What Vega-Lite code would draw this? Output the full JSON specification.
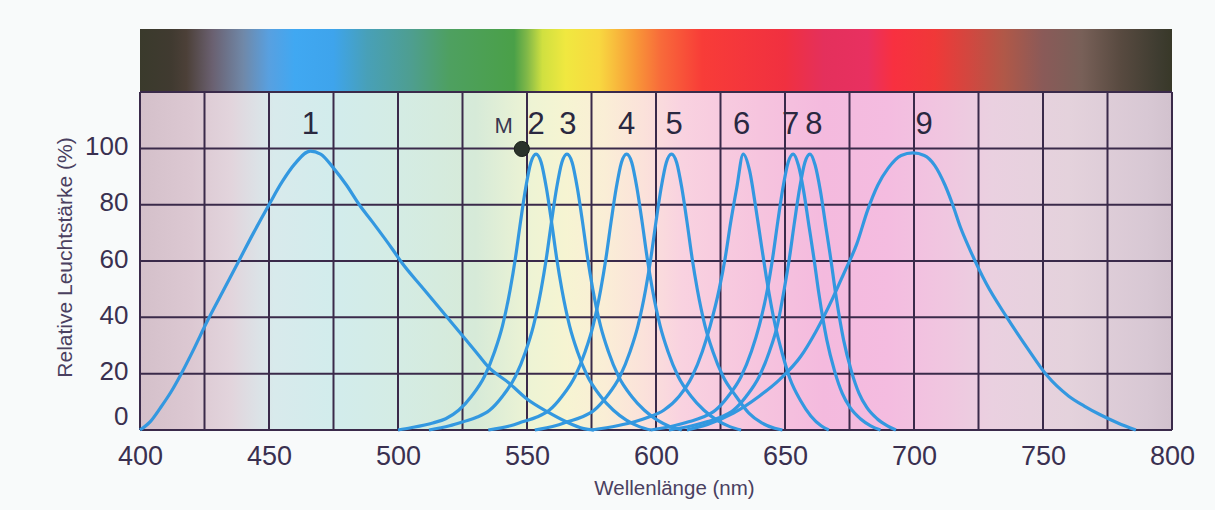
{
  "$schema": "https://vega.github.io/schema/vega-lite/v6.json",
  "width": 1032,
  "height": 401,
  "autosize": "none",
  "padding": {"left": 140, "top": 29, "right": 43, "bottom": 80},
  "background": "#f8fafa",
  "config": {"view": {"stroke": null}},
  "datasets": {
    "frame": [{"x1": 400, "x2": 800, "y1": 0, "y2": 120}],
    "spec": [{"x1": 400, "x2": 800, "y1": 120, "y2": 142.4}],
    "vgrid": [{"nm": 400}, {"nm": 425}, {"nm": 450}, {"nm": 475}, {"nm": 500}, {"nm": 525}, {"nm": 550}, {"nm": 575}, {"nm": 600}, {"nm": 625}, {"nm": 650}, {"nm": 675}, {"nm": 700}, {"nm": 725}, {"nm": 750}, {"nm": 775}, {"nm": 800}],
    "hgrid": [{"v": 0}, {"v": 20}, {"v": 40}, {"v": 60}, {"v": 80}, {"v": 100}, {"v": 120}],
    "curves": [
      {"c": "1", "nm": 400, "v": 0}, {"c": "1", "nm": 404, "v": 3}, {"c": "1", "nm": 408, "v": 8}, {"c": "1", "nm": 412, "v": 13.5}, {"c": "1", "nm": 416, "v": 20}, {"c": "1", "nm": 421, "v": 29}, {"c": "1", "nm": 426, "v": 38.5}, {"c": "1", "nm": 432, "v": 49}, {"c": "1", "nm": 438, "v": 59.5}, {"c": "1", "nm": 444, "v": 70}, {"c": "1", "nm": 450, "v": 80}, {"c": "1", "nm": 455, "v": 88}, {"c": "1", "nm": 460, "v": 94.5}, {"c": "1", "nm": 466, "v": 99}, {"c": "1", "nm": 470, "v": 98}, {"c": "1", "nm": 475, "v": 93}, {"c": "1", "nm": 480, "v": 87}, {"c": "1", "nm": 485, "v": 80}, {"c": "1", "nm": 490, "v": 74}, {"c": "1", "nm": 498, "v": 64}, {"c": "1", "nm": 501, "v": 60}, {"c": "1", "nm": 510, "v": 50}, {"c": "1", "nm": 520, "v": 39}, {"c": "1", "nm": 530, "v": 28}, {"c": "1", "nm": 535, "v": 22.4}, {"c": "1", "nm": 543, "v": 16.7}, {"c": "1", "nm": 550, "v": 11}, {"c": "1", "nm": 558, "v": 6.4}, {"c": "1", "nm": 565, "v": 3}, {"c": "1", "nm": 572, "v": 0.5}, {"c": "1", "nm": 576, "v": 0},

      {"c": "2", "nm": 500, "v": 0}, {"c": "2", "nm": 505, "v": 0.8}, {"c": "2", "nm": 513.5, "v": 2.5}, {"c": "2", "nm": 518.5, "v": 4}, {"c": "2", "nm": 523.5, "v": 7}, {"c": "2", "nm": 528.5, "v": 12}, {"c": "2", "nm": 533.5, "v": 19}, {"c": "2", "nm": 537.5, "v": 28}, {"c": "2", "nm": 540.5, "v": 37}, {"c": "2", "nm": 543.5, "v": 50}, {"c": "2", "nm": 545.5, "v": 61}, {"c": "2", "nm": 547.5, "v": 74}, {"c": "2", "nm": 549.5, "v": 86}, {"c": "2", "nm": 551.5, "v": 95}, {"c": "2", "nm": 553.5, "v": 98}, {"c": "2", "nm": 555.5, "v": 95}, {"c": "2", "nm": 557.5, "v": 86}, {"c": "2", "nm": 559.5, "v": 74}, {"c": "2", "nm": 561.5, "v": 61}, {"c": "2", "nm": 563.5, "v": 50}, {"c": "2", "nm": 566.5, "v": 37}, {"c": "2", "nm": 569.5, "v": 28}, {"c": "2", "nm": 573.5, "v": 19}, {"c": "2", "nm": 578.5, "v": 12}, {"c": "2", "nm": 583.5, "v": 7}, {"c": "2", "nm": 588.5, "v": 3.5}, {"c": "2", "nm": 593.5, "v": 1.2}, {"c": "2", "nm": 598, "v": 0},

      {"c": "3", "nm": 512, "v": 0}, {"c": "3", "nm": 520, "v": 1.5}, {"c": "3", "nm": 525.5, "v": 3}, {"c": "3", "nm": 530.5, "v": 4.5}, {"c": "3", "nm": 535.5, "v": 7}, {"c": "3", "nm": 540.5, "v": 12}, {"c": "3", "nm": 545.5, "v": 19}, {"c": "3", "nm": 549.5, "v": 28}, {"c": "3", "nm": 552.5, "v": 37}, {"c": "3", "nm": 555.5, "v": 50}, {"c": "3", "nm": 557.5, "v": 61}, {"c": "3", "nm": 559.5, "v": 74}, {"c": "3", "nm": 561.5, "v": 86}, {"c": "3", "nm": 563.5, "v": 95}, {"c": "3", "nm": 565.5, "v": 98}, {"c": "3", "nm": 567.5, "v": 95}, {"c": "3", "nm": 569.5, "v": 86}, {"c": "3", "nm": 571.5, "v": 74}, {"c": "3", "nm": 573.5, "v": 61}, {"c": "3", "nm": 575.5, "v": 50}, {"c": "3", "nm": 578.5, "v": 37}, {"c": "3", "nm": 581.5, "v": 28}, {"c": "3", "nm": 585.5, "v": 19}, {"c": "3", "nm": 590.5, "v": 12}, {"c": "3", "nm": 595.5, "v": 7}, {"c": "3", "nm": 600.5, "v": 3.5}, {"c": "3", "nm": 605.5, "v": 1.2}, {"c": "3", "nm": 610, "v": 0},

      {"c": "4", "nm": 535, "v": 0}, {"c": "4", "nm": 543.6, "v": 1.5}, {"c": "4", "nm": 548.6, "v": 3}, {"c": "4", "nm": 553.6, "v": 4.5}, {"c": "4", "nm": 558.6, "v": 7}, {"c": "4", "nm": 563.6, "v": 12}, {"c": "4", "nm": 568.6, "v": 19}, {"c": "4", "nm": 572.6, "v": 28}, {"c": "4", "nm": 575.6, "v": 37}, {"c": "4", "nm": 578.6, "v": 50}, {"c": "4", "nm": 580.6, "v": 61}, {"c": "4", "nm": 582.6, "v": 74}, {"c": "4", "nm": 584.6, "v": 86}, {"c": "4", "nm": 586.6, "v": 95}, {"c": "4", "nm": 588.6, "v": 98}, {"c": "4", "nm": 590.6, "v": 95}, {"c": "4", "nm": 592.6, "v": 86}, {"c": "4", "nm": 594.6, "v": 74}, {"c": "4", "nm": 596.6, "v": 61}, {"c": "4", "nm": 598.6, "v": 50}, {"c": "4", "nm": 601.6, "v": 37}, {"c": "4", "nm": 604.6, "v": 28}, {"c": "4", "nm": 608.6, "v": 19}, {"c": "4", "nm": 613.6, "v": 12}, {"c": "4", "nm": 618.6, "v": 7}, {"c": "4", "nm": 623.6, "v": 3.5}, {"c": "4", "nm": 628.6, "v": 1.2}, {"c": "4", "nm": 633, "v": 0},

      {"c": "5", "nm": 553, "v": 0}, {"c": "5", "nm": 561, "v": 1.5}, {"c": "5", "nm": 566, "v": 3}, {"c": "5", "nm": 571, "v": 4.5}, {"c": "5", "nm": 576, "v": 7}, {"c": "5", "nm": 581, "v": 12}, {"c": "5", "nm": 586, "v": 19}, {"c": "5", "nm": 590, "v": 28}, {"c": "5", "nm": 593, "v": 37}, {"c": "5", "nm": 596, "v": 50}, {"c": "5", "nm": 598, "v": 61}, {"c": "5", "nm": 600, "v": 74}, {"c": "5", "nm": 602, "v": 86}, {"c": "5", "nm": 604, "v": 95}, {"c": "5", "nm": 606, "v": 98}, {"c": "5", "nm": 608, "v": 95}, {"c": "5", "nm": 610, "v": 86}, {"c": "5", "nm": 612, "v": 74}, {"c": "5", "nm": 614, "v": 61}, {"c": "5", "nm": 616, "v": 50}, {"c": "5", "nm": 619, "v": 37}, {"c": "5", "nm": 622, "v": 28}, {"c": "5", "nm": 626, "v": 19}, {"c": "5", "nm": 631, "v": 12}, {"c": "5", "nm": 636, "v": 6}, {"c": "5", "nm": 641, "v": 2.5}, {"c": "5", "nm": 646, "v": 0.6}, {"c": "5", "nm": 649, "v": 0},

      {"c": "6", "nm": 575, "v": 0}, {"c": "6", "nm": 585, "v": 1.5}, {"c": "6", "nm": 592, "v": 3}, {"c": "6", "nm": 597, "v": 4.5}, {"c": "6", "nm": 603, "v": 7}, {"c": "6", "nm": 609, "v": 12}, {"c": "6", "nm": 614, "v": 19}, {"c": "6", "nm": 618, "v": 28}, {"c": "6", "nm": 621, "v": 37}, {"c": "6", "nm": 624.5, "v": 50}, {"c": "6", "nm": 626.8, "v": 61}, {"c": "6", "nm": 629, "v": 74}, {"c": "6", "nm": 631.3, "v": 86}, {"c": "6", "nm": 633.8, "v": 98}, {"c": "6", "nm": 636.3, "v": 92}, {"c": "6", "nm": 638.5, "v": 80}, {"c": "6", "nm": 640.8, "v": 66}, {"c": "6", "nm": 643, "v": 53}, {"c": "6", "nm": 646, "v": 38}, {"c": "6", "nm": 649, "v": 27}, {"c": "6", "nm": 652, "v": 18}, {"c": "6", "nm": 656, "v": 10.5}, {"c": "6", "nm": 660, "v": 5}, {"c": "6", "nm": 664, "v": 1.5}, {"c": "6", "nm": 667, "v": 0},

      {"c": "7", "nm": 598, "v": 0}, {"c": "7", "nm": 607, "v": 1.5}, {"c": "7", "nm": 613, "v": 3}, {"c": "7", "nm": 618, "v": 4.5}, {"c": "7", "nm": 623, "v": 7}, {"c": "7", "nm": 628, "v": 12}, {"c": "7", "nm": 633, "v": 19}, {"c": "7", "nm": 637, "v": 28}, {"c": "7", "nm": 640, "v": 37}, {"c": "7", "nm": 643.2, "v": 50}, {"c": "7", "nm": 645.2, "v": 61}, {"c": "7", "nm": 647.2, "v": 74}, {"c": "7", "nm": 649.2, "v": 86}, {"c": "7", "nm": 651.2, "v": 95}, {"c": "7", "nm": 653.2, "v": 98}, {"c": "7", "nm": 655.2, "v": 94}, {"c": "7", "nm": 657.2, "v": 85}, {"c": "7", "nm": 659.2, "v": 73}, {"c": "7", "nm": 661.2, "v": 61}, {"c": "7", "nm": 663.2, "v": 48}, {"c": "7", "nm": 666.2, "v": 32}, {"c": "7", "nm": 669.2, "v": 21}, {"c": "7", "nm": 672.2, "v": 13}, {"c": "7", "nm": 675.2, "v": 8}, {"c": "7", "nm": 679.2, "v": 4}, {"c": "7", "nm": 683.2, "v": 1.5}, {"c": "7", "nm": 687, "v": 0},

      {"c": "8", "nm": 605, "v": 0}, {"c": "8", "nm": 614, "v": 1.5}, {"c": "8", "nm": 620, "v": 3}, {"c": "8", "nm": 625, "v": 4.5}, {"c": "8", "nm": 630, "v": 7}, {"c": "8", "nm": 635, "v": 12}, {"c": "8", "nm": 640, "v": 19}, {"c": "8", "nm": 644, "v": 28}, {"c": "8", "nm": 647, "v": 37}, {"c": "8", "nm": 649.7, "v": 50}, {"c": "8", "nm": 651.7, "v": 61}, {"c": "8", "nm": 653.7, "v": 74}, {"c": "8", "nm": 655.7, "v": 86}, {"c": "8", "nm": 657.7, "v": 95}, {"c": "8", "nm": 659.7, "v": 98}, {"c": "8", "nm": 661.7, "v": 94}, {"c": "8", "nm": 663.7, "v": 85}, {"c": "8", "nm": 665.7, "v": 73}, {"c": "8", "nm": 667.7, "v": 61}, {"c": "8", "nm": 669.7, "v": 48}, {"c": "8", "nm": 672.7, "v": 32}, {"c": "8", "nm": 675.7, "v": 21}, {"c": "8", "nm": 678.7, "v": 13}, {"c": "8", "nm": 681.7, "v": 8}, {"c": "8", "nm": 685.7, "v": 4}, {"c": "8", "nm": 689.7, "v": 1.5}, {"c": "8", "nm": 693, "v": 0},

      {"c": "9", "nm": 612, "v": 0}, {"c": "9", "nm": 620, "v": 2}, {"c": "9", "nm": 630, "v": 6}, {"c": "9", "nm": 640, "v": 12}, {"c": "9", "nm": 648, "v": 18}, {"c": "9", "nm": 656, "v": 26}, {"c": "9", "nm": 662, "v": 35}, {"c": "9", "nm": 668.6, "v": 47}, {"c": "9", "nm": 673, "v": 56}, {"c": "9", "nm": 677.8, "v": 66}, {"c": "9", "nm": 682, "v": 78}, {"c": "9", "nm": 686, "v": 87}, {"c": "9", "nm": 690, "v": 93}, {"c": "9", "nm": 695, "v": 97.5}, {"c": "9", "nm": 699.6, "v": 98.4}, {"c": "9", "nm": 704, "v": 97.5}, {"c": "9", "nm": 708, "v": 94}, {"c": "9", "nm": 712, "v": 87}, {"c": "9", "nm": 715, "v": 80}, {"c": "9", "nm": 718, "v": 72}, {"c": "9", "nm": 721.7, "v": 64}, {"c": "9", "nm": 728, "v": 52}, {"c": "9", "nm": 736, "v": 40}, {"c": "9", "nm": 744, "v": 29}, {"c": "9", "nm": 751.4, "v": 19.5}, {"c": "9", "nm": 760, "v": 12}, {"c": "9", "nm": 766, "v": 8.5}, {"c": "9", "nm": 772, "v": 5.5}, {"c": "9", "nm": 779, "v": 2.5}, {"c": "9", "nm": 786, "v": 0}
    ],
    "labels": [
      {"t": "1", "nm": 466, "v": 105.2}, {"t": "2", "nm": 553.5, "v": 105.2}, {"t": "3", "nm": 565.8, "v": 105.2}, {"t": "4", "nm": 588.6, "v": 105.2}, {"t": "5", "nm": 607, "v": 105.2}, {"t": "6", "nm": 633.2, "v": 105.2}, {"t": "7", "nm": 652.2, "v": 105.2}, {"t": "8", "nm": 661.2, "v": 105.2}, {"t": "9", "nm": 703.9, "v": 105.2}
    ],
    "mlabel": [{"t": "M", "nm": 541, "v": 105.5}],
    "dot": [{"nm": 548, "v": 99.8}]
  },
  "layer": [
    {
      "data": {"name": "frame"},
      "mark": {"type": "rect", "fill": {"gradient": "linear", "x1": 0, "y1": 0, "x2": 1, "y2": 0, "stops": [
        {"offset": 0, "color": "#d4c0ca"}, {"offset": 0.05, "color": "#dcc8d2"}, {"offset": 0.0875, "color": "#e2d4dc"},
        {"offset": 0.13, "color": "#d8eaec"}, {"offset": 0.1875, "color": "#d2ecec"}, {"offset": 0.25, "color": "#d4ece4"},
        {"offset": 0.325, "color": "#d6ead8"}, {"offset": 0.38, "color": "#eef4d4"}, {"offset": 0.4125, "color": "#f6f4d2"},
        {"offset": 0.45, "color": "#faeed6"}, {"offset": 0.4875, "color": "#fbe2da"}, {"offset": 0.525, "color": "#f9d2e0"},
        {"offset": 0.6, "color": "#f6c4de"}, {"offset": 0.6625, "color": "#f4bade"}, {"offset": 0.725, "color": "#f4bce0"},
        {"offset": 0.78, "color": "#f0c6e0"}, {"offset": 0.825, "color": "#ead0e0"}, {"offset": 0.9, "color": "#e4d2dc"},
        {"offset": 0.975, "color": "#d8c8d4"}, {"offset": 1, "color": "#d2c2ce"}]}},
      "encoding": {
        "x": {"field": "x1", "type": "quantitative", "scale": {"domain": [400, 800], "nice": false, "zero": false},
              "axis": {"values": [400, 450, 500, 550, 600, 650, 700, 750, 800], "grid": false, "domain": false, "ticks": false, "labelFlush": false,
                       "labelFont": "Liberation Sans", "labelFontSize": 27, "labelColor": "#3a3050", "labelPadding": 13,
                       "title": "Wellenlänge (nm)", "titleFont": "Liberation Sans", "titleFontSize": 20.5, "titleFontWeight": "normal",
                       "titleColor": "#4a4060", "titleX": 534, "titleY": 58, "titleBaseline": "middle", "titleAnchor": "start", "titleAlign": "center"}},
        "x2": {"field": "x2"},
        "y": {"field": "y1", "type": "quantitative", "scale": {"domain": [0, 142.4], "nice": false, "zero": false},
              "axis": {"values": [0, 20, 40, 60, 80, 100], "grid": false, "domain": false, "ticks": false, "labelFlush": false,
                       "labelFont": "Liberation Sans", "labelFontSize": 26, "labelColor": "#3a3050", "labelPadding": 12,
                       "labelOffset": {"condition": {"test": "datum.value === 0", "value": -14}, "value": -2},
                       "title": "Relative Leuchtstärke (%)", "titleFont": "Liberation Sans", "titleFontSize": 21, "titleFontWeight": "normal",
                       "titleColor": "#4a4060", "titleX": -75, "titleY": 228, "titleAngle": 270, "titleBaseline": "middle", "titleAlign": "center"}},
        "y2": {"field": "y2"}
      }
    },
    {
      "data": {"name": "spec"},
      "mark": {"type": "rect", "fill": {"gradient": "linear", "x1": 0, "y1": 0, "x2": 1, "y2": 0, "stops": [
        {"offset": 0, "color": "#3a3a2c"}, {"offset": 0.03, "color": "#403a30"}, {"offset": 0.045, "color": "#4c4038"},
        {"offset": 0.07, "color": "#6a6070"}, {"offset": 0.1, "color": "#7088a8"}, {"offset": 0.125, "color": "#58a0e0"},
        {"offset": 0.15, "color": "#40a8f2"}, {"offset": 0.1875, "color": "#3ea4ec"}, {"offset": 0.22, "color": "#48a0b8"},
        {"offset": 0.2625, "color": "#4e9e90"}, {"offset": 0.3, "color": "#4ea060"}, {"offset": 0.3625, "color": "#4aa048"},
        {"offset": 0.375, "color": "#80b848"}, {"offset": 0.39, "color": "#d0e040"}, {"offset": 0.4125, "color": "#f0e840"},
        {"offset": 0.445, "color": "#f8d840"}, {"offset": 0.48, "color": "#f89838"}, {"offset": 0.505, "color": "#f86a3a"},
        {"offset": 0.545, "color": "#f83c38"}, {"offset": 0.625, "color": "#f03040"}, {"offset": 0.6625, "color": "#e4305c"},
        {"offset": 0.705, "color": "#e83060"}, {"offset": 0.73, "color": "#f83040"}, {"offset": 0.77, "color": "#f03838"},
        {"offset": 0.805, "color": "#d04840"}, {"offset": 0.8375, "color": "#b05848"}, {"offset": 0.875, "color": "#8a5a58"},
        {"offset": 0.9125, "color": "#786058"}, {"offset": 0.95, "color": "#584a40"}, {"offset": 0.9875, "color": "#3e3c30"},
        {"offset": 1, "color": "#383828"}]}},
      "encoding": {
        "x": {"field": "x1", "type": "quantitative"},
        "x2": {"field": "x2"},
        "y": {"field": "y1", "type": "quantitative"},
        "y2": {"field": "y2"}
      }
    },
    {
      "data": {"name": "vgrid"},
      "mark": {"type": "rule", "stroke": "#3a2a4a", "strokeWidth": 2},
      "encoding": {"x": {"field": "nm", "type": "quantitative"}, "y": {"datum": 0}, "y2": {"datum": 120}}
    },
    {
      "data": {"name": "hgrid"},
      "mark": {"type": "rule", "stroke": "#3a2a4a", "strokeWidth": 2},
      "encoding": {"y": {"field": "v", "type": "quantitative"}, "x": {"datum": 400}, "x2": {"datum": 800}}
    },
    {
      "data": {"name": "curves"},
      "mark": {"type": "line", "stroke": "#3398e0", "strokeWidth": 3.2, "interpolate": "monotone"},
      "encoding": {
        "x": {"field": "nm", "type": "quantitative"},
        "y": {"field": "v", "type": "quantitative"},
        "detail": {"field": "c"}
      }
    },
    {
      "data": {"name": "dot"},
      "mark": {"type": "point", "filled": true, "fill": "#2a322a", "stroke": "#1a201a", "strokeWidth": 1, "size": 230, "opacity": 1},
      "encoding": {"x": {"field": "nm", "type": "quantitative"}, "y": {"field": "v", "type": "quantitative"}}
    },
    {
      "data": {"name": "labels"},
      "mark": {"type": "text", "font": "Liberation Sans", "fontSize": 31, "fill": "#2a2840", "baseline": "alphabetic", "align": "center"},
      "encoding": {"x": {"field": "nm", "type": "quantitative"}, "y": {"field": "v", "type": "quantitative"}, "text": {"field": "t"}}
    },
    {
      "data": {"name": "mlabel"},
      "mark": {"type": "text", "font": "Liberation Sans", "fontSize": 22, "fill": "#3a3850", "baseline": "alphabetic", "align": "center"},
      "encoding": {"x": {"field": "nm", "type": "quantitative"}, "y": {"field": "v", "type": "quantitative"}, "text": {"field": "t"}}
    }
  ]
}
